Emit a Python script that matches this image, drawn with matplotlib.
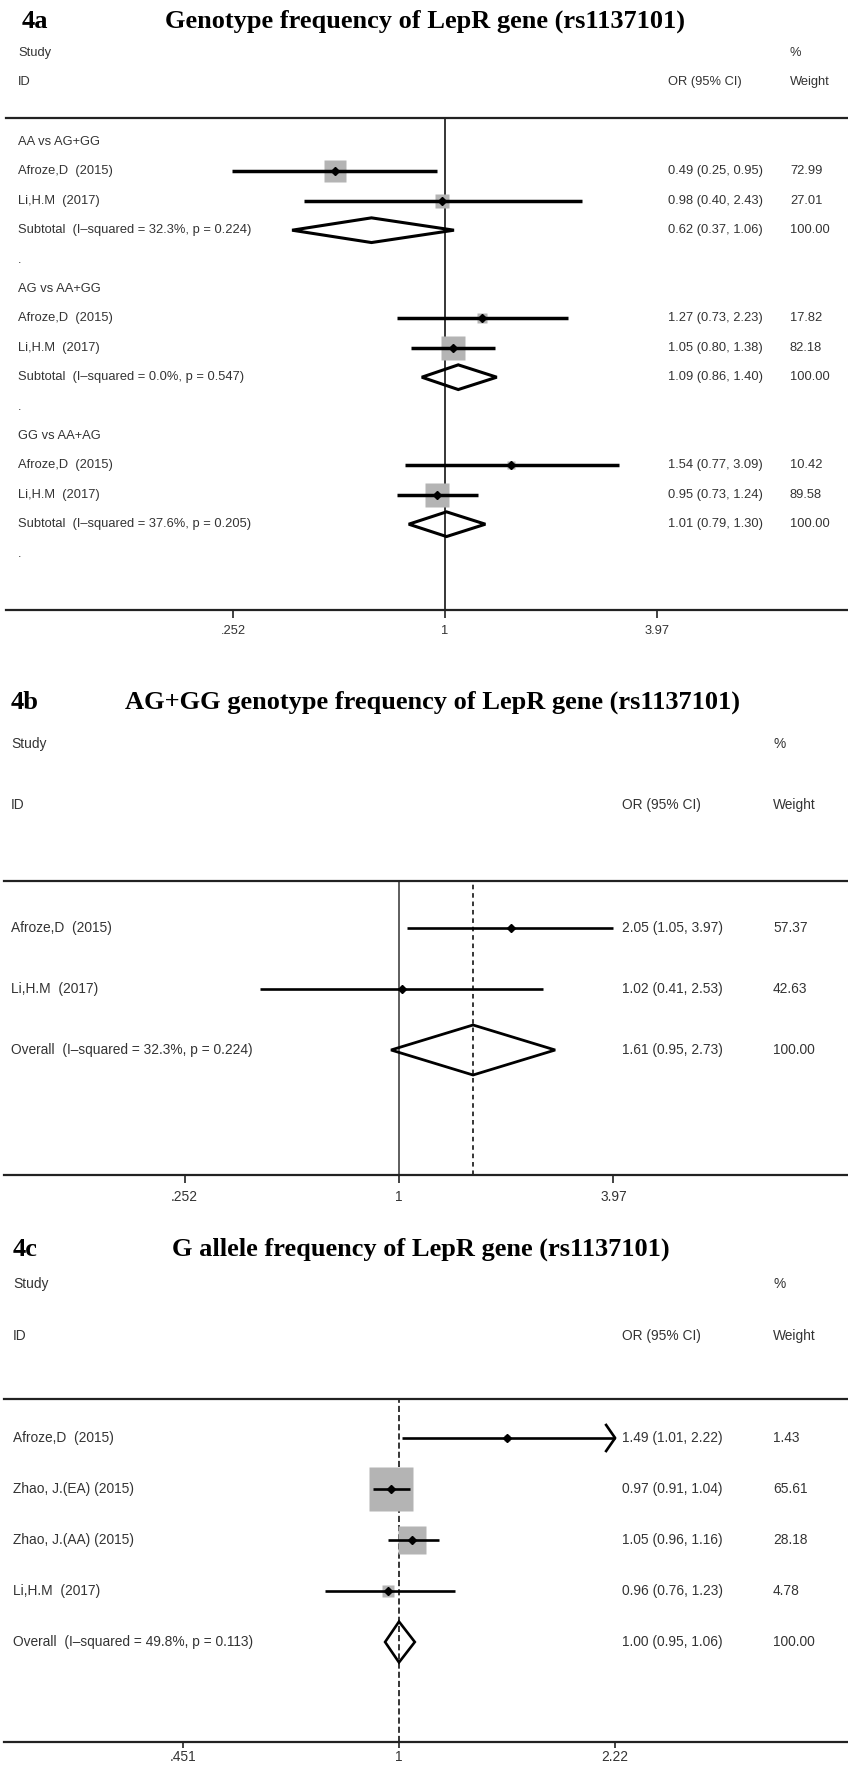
import numpy as np
import matplotlib.pyplot as plt
import matplotlib.transforms as mtransforms
from matplotlib.patches import Polygon
from matplotlib.ticker import NullLocator, FixedLocator, FixedFormatter

# ---- 4a: genotype frequency, three subgroups
a_groups = ['AA vs AG+GG', 'AG vs AA+GG', 'GG vs AA+AG']
a_studies = ['Afroze,D  (2015)', 'Li,H.M  (2017)']
a_or = [[0.49, 0.98], [1.27, 1.05], [1.54, 0.95]]
a_lo = [[0.25, 0.40], [0.73, 0.80], [0.77, 0.73]]
a_hi = [[0.95, 2.43], [2.23, 1.38], [3.09, 1.24]]
a_w = [[72.99, 27.01], [17.82, 82.18], [10.42, 89.58]]
a_sub_or = [0.62, 1.09, 1.01]
a_sub_lo = [0.37, 0.86, 0.79]
a_sub_hi = [1.06, 1.40, 1.30]
a_sub_i2 = [32.3, 0.0, 37.6]
a_sub_p = [0.224, 0.547, 0.205]
a_ticks = [0.252, 1, 3.97]
a_ticklabels = ['.252', '1', '3.97']

# ---- 4b: AG+GG genotype
b_studies = ['Afroze,D  (2015)', 'Li,H.M  (2017)']
b_or = [2.05, 1.02]
b_lo = [1.05, 0.41]
b_hi = [3.97, 2.53]
b_w = [57.37, 42.63]
b_pool = [1.61, 0.95, 2.73]
b_i2, b_p = 32.3, 0.224
b_ticks = [0.252, 1, 3.97]
b_ticklabels = ['.252', '1', '3.97']

# ---- 4c: G allele
c_studies = ['Afroze,D  (2015)', 'Zhao, J.(EA) (2015)', 'Zhao, J.(AA) (2015)', 'Li,H.M  (2017)']
c_or = [1.49, 0.97, 1.05, 0.96]
c_lo = [1.01, 0.91, 0.96, 0.76]
c_hi = [2.22, 1.04, 1.16, 1.23]
c_w = [1.43, 65.61, 28.18, 4.78]
c_pool = [1.00, 0.95, 1.06]
c_i2, c_p = 49.8, 0.113
c_ticks = [0.451, 1, 2.22]
c_ticklabels = ['.451', '1', '2.22']

W, H = 848, 1769
fig = plt.figure(figsize=(W / 100, H / 100), dpi=100)

TXT = '#333333'
SANS = ['Liberation Sans', 'DejaVu Sans']
SERIF = ['Liberation Serif', 'DejaVu Serif']
GRAY = '#b4b4b4'
TSIZE = 19


def fx(px):
    return px / W


def fy(py):
    return 1 - py / H


def ftext(x, y, s, size, **kw):
    fig.text(fx(x), fy(y), s, fontsize=size, va=kw.pop('va', 'center'), ha='left',
             color=kw.pop('color', TXT), family=kw.pop('family', SANS), **kw)


def title(x_lab, x_tit, y_base, lab, s):
    ftext(x_lab, y_base, lab, TSIZE, family=SERIF, weight='bold', color='black', va='baseline')
    ftext(x_tit, y_base, s, TSIZE, family=SERIF, weight='bold', color='black', va='baseline')


def panel(top, bottom, x1, s, y0, dy, ticks, ticklabels, fsize, left=6, right=848,
          tlen=6, tpad=5):
    ax = fig.add_axes([fx(left), fy(bottom), (right - left) / W, (bottom - top) / H])
    ax.set_xscale('log')
    ax.set_xlim(np.exp((left - x1) / s), np.exp((right - x1) / s))
    ax.set_ylim((bottom - y0) / dy, (top - y0) / dy)
    for side in ['left', 'right']:
        ax.spines[side].set_visible(False)
    for side in ['top', 'bottom']:
        ax.spines[side].set_linewidth(1.6)
        ax.spines[side].set_color('#222222')
    ax.set_yticks([])
    ax.xaxis.set_major_locator(FixedLocator(ticks))
    ax.xaxis.set_major_formatter(FixedFormatter(ticklabels))
    ax.xaxis.set_minor_locator(NullLocator())
    ax.tick_params(axis='x', direction='out', length=tlen, width=1.2, pad=tpad,
                   labelsize=fsize, labelcolor=TXT, color='#222222')
    for lab in ax.get_xticklabels():
        lab.set_family(SANS)
    ax.patch.set_alpha(0)
    tr = mtransforms.blended_transform_factory(fig.transFigure, ax.transData)
    return ax, tr


def study_row(ax, y, o, lo, hi, w, k, lw, s, arrow=False, dy=1.0):
    if w > 0 and k > 0:
        ax.plot(o, y, marker='s', ms=k * np.sqrt(w) * 0.72, color=GRAY, mec='none', zorder=2)
    ax.plot([lo, hi], [y, y], color='black', lw=lw, solid_capstyle='butt', zorder=3)
    ax.plot(o, y, marker='D', ms=4, color='black', zorder=4)
    if arrow:
        back = hi * np.exp(-9 / s)
        hh = 13 / dy
        ax.plot([back, hi, back], [y - hh, y, y + hh], color='black', lw=lw, zorder=3)


def diamond(ax, y, o, lo, hi, h, lw):
    ax.add_patch(Polygon([(lo, y), (o, y - h), (hi, y), (o, y + h)], closed=True,
                         fill=False, ec='black', lw=lw, zorder=4))


# ================= 4a =================
fs = 9.3
title(22, 165, 28, '4a', 'Genotype frequency of LepR gene (rs1137101)')
ftext(18, 53, 'Study', fs)
ftext(790, 53, '%', fs)
ftext(18, 82, 'ID', fs)
ftext(668, 82, 'OR (95% CI)', fs)
ftext(790, 82, 'Weight', fs)

dy_a = 29.4
ax, tr = panel(118, 610, 445, 153.8, 142, dy_a, a_ticks, a_ticklabels, fs)
ax.axvline(1, color='black', lw=1.1, zorder=1)
row = 0
for g in range(len(a_groups)):
    ax.text(fx(18), row, a_groups[g], transform=tr, fontsize=fs, color=TXT, family=SANS, va='center')
    row += 1
    for i in range(len(a_studies)):
        study_row(ax, row, a_or[g][i], a_lo[g][i], a_hi[g][i], a_w[g][i], 2.57, 2.5, 153.8)
        ax.text(fx(18), row, a_studies[i], transform=tr, fontsize=fs, color=TXT, family=SANS, va='center')
        ax.text(fx(668), row, f'{a_or[g][i]:.2f} ({a_lo[g][i]:.2f}, {a_hi[g][i]:.2f})',
                transform=tr, fontsize=fs, color=TXT, family=SANS, va='center')
        ax.text(fx(790), row, f'{a_w[g][i]:.2f}', transform=tr, fontsize=fs, color=TXT,
                family=SANS, va='center')
        row += 1
    diamond(ax, row, a_sub_or[g], a_sub_lo[g], a_sub_hi[g], 0.42, 2.2)
    ax.text(fx(18), row, f'Subtotal  (I\u2013squared = {a_sub_i2[g]:.1f}%, p = {a_sub_p[g]:.3f})',
            transform=tr, fontsize=fs, color=TXT, family=SANS, va='center')
    ax.text(fx(668), row, f'{a_sub_or[g]:.2f} ({a_sub_lo[g]:.2f}, {a_sub_hi[g]:.2f})',
            transform=tr, fontsize=fs, color=TXT, family=SANS, va='center')
    ax.text(fx(790), row, '100.00', transform=tr, fontsize=fs, color=TXT, family=SANS, va='center')
    row += 1
    ax.text(fx(18), row, '.', transform=tr, fontsize=fs, color=TXT, family=SANS, va='center')
    row += 1

# ================= 4b =================
fs = 9.9
title(11, 125, 709, '4b', 'AG+GG genotype frequency of LepR gene (rs1137101)')
ftext(11, 744, 'Study', fs)
ftext(773, 744, '%', fs)
ftext(11, 805, 'ID', fs)
ftext(622, 805, 'OR (95% CI)', fs)
ftext(773, 805, 'Weight', fs)

dy_b = 61
ax, tr = panel(881, 1175, 399, 155.5, 928, dy_b, b_ticks, b_ticklabels, fs, left=4)
ax.axvline(1, color='#333333', lw=1.1, zorder=1)
ax.axvline(b_pool[0], color='black', lw=1.1, ls=(0, (3, 2.5)), zorder=1)
for i in range(len(b_studies)):
    study_row(ax, i, b_or[i], b_lo[i], b_hi[i], b_w[i], 0, 1.9, 155.5)
    ax.text(fx(11), i, b_studies[i], transform=tr, fontsize=fs, color=TXT, family=SANS, va='center')
    ax.text(fx(622), i, f'{b_or[i]:.2f} ({b_lo[i]:.2f}, {b_hi[i]:.2f})', transform=tr,
            fontsize=fs, color=TXT, family=SANS, va='center')
    ax.text(fx(773), i, f'{b_w[i]:.2f}', transform=tr, fontsize=fs, color=TXT, family=SANS, va='center')
r = len(b_studies)
diamond(ax, r, b_pool[0], b_pool[1], b_pool[2], 0.41, 2.0)
ax.text(fx(11), r, f'Overall  (I\u2013squared = {b_i2:.1f}%, p = {b_p:.3f})', transform=tr,
        fontsize=fs, color=TXT, family=SANS, va='center')
ax.text(fx(622), r, f'{b_pool[0]:.2f} ({b_pool[1]:.2f}, {b_pool[2]:.2f})', transform=tr,
        fontsize=fs, color=TXT, family=SANS, va='center')
ax.text(fx(773), r, '100.00', transform=tr, fontsize=fs, color=TXT, family=SANS, va='center')

# ================= 4c =================
title(13, 172, 1256, '4c', 'G allele frequency of LepR gene (rs1137101)')
ftext(13, 1284, 'Study', fs)
ftext(773, 1284, '%', fs)
ftext(13, 1336, 'ID', fs)
ftext(622, 1336, 'OR (95% CI)', fs)
ftext(773, 1336, 'Weight', fs)

dy_c = 51
ax, tr = panel(1399, 1742, 399, 271, 1438, dy_c, c_ticks, c_ticklabels, fs, left=4,
               tlen=4.5, tpad=1.5)
ax.axvline(c_pool[0], color='black', lw=1.1, ls=(0, (4, 2)), zorder=1)
for i in range(len(c_studies)):
    study_row(ax, i, c_or[i], c_lo[i], c_hi[i], c_w[i], 5.4, 1.9, 271,
              arrow=c_hi[i] >= c_ticks[-1], dy=dy_c)
    ax.text(fx(13), i, c_studies[i], transform=tr, fontsize=fs, color=TXT, family=SANS, va='center')
    ax.text(fx(622), i, f'{c_or[i]:.2f} ({c_lo[i]:.2f}, {c_hi[i]:.2f})', transform=tr,
            fontsize=fs, color=TXT, family=SANS, va='center')
    ax.text(fx(773), i, f'{c_w[i]:.2f}', transform=tr, fontsize=fs, color=TXT, family=SANS, va='center')
r = len(c_studies)
diamond(ax, r, c_pool[0], c_pool[1], c_pool[2], 0.4, 1.9)
ax.text(fx(13), r, f'Overall  (I\u2013squared = {c_i2:.1f}%, p = {c_p:.3f})', transform=tr,
        fontsize=fs, color=TXT, family=SANS, va='center')
ax.text(fx(622), r, f'{c_pool[0]:.2f} ({c_pool[1]:.2f}, {c_pool[2]:.2f})', transform=tr,
        fontsize=fs, color=TXT, family=SANS, va='center')
ax.text(fx(773), r, '100.00', transform=tr, fontsize=fs, color=TXT, family=SANS, va='center')

fig.savefig('out.png', dpi=100)
